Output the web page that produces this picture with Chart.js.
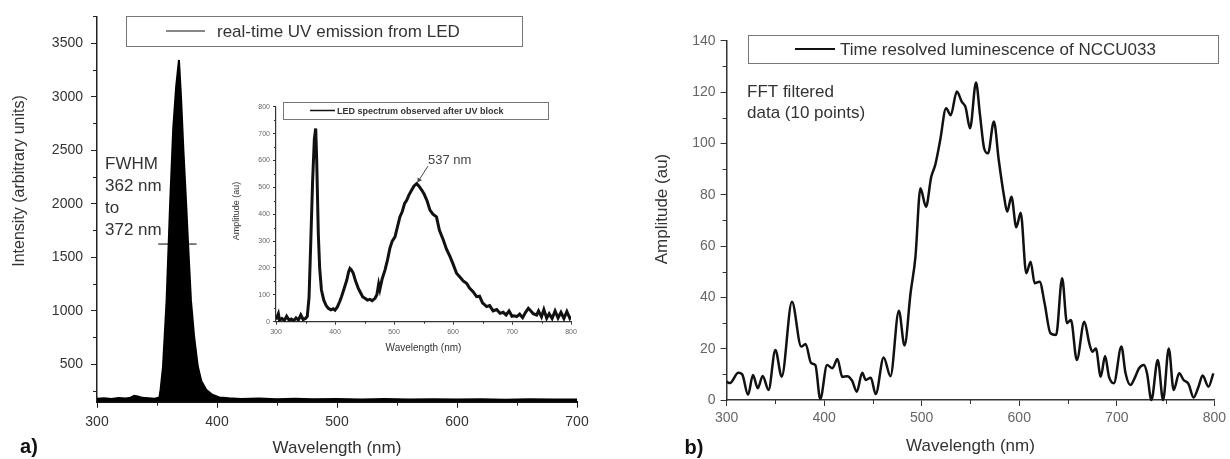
<!DOCTYPE html>
<html lang="en">
<head>
<meta charset="UTF-8" />
<title>UV emission and time resolved luminescence</title>
<script src="https://cdn.jsdelivr.net/npm/chart.js@4.4.1/dist/chart.umd.min.js"></script>
<style>
  body { margin: 0; background: #fff; }
  #wrap { position: relative; width: 1230px; height: 459px; }
  canvas { position: absolute; }
</style>
</head>
<body>
<div id="wrap">
  <canvas id="chartA" width="620" height="459" style="left:0;top:0;width:620px;height:459px"></canvas>
  <canvas id="chartInset" width="355" height="262" style="left:225px;top:96px;width:355px;height:262px"></canvas>
  <canvas id="chartB" width="610" height="459" style="left:620px;top:0;width:610px;height:459px"></canvas>
</div>
<script>
// a) real-time UV emission from LED
const uvWavelength = [300, 306, 312, 318, 324, 328, 331, 334, 338, 343, 348, 352, 353, 355, 358, 361, 363.5, 366, 368.3,
  370, 372, 374.2, 376, 378.3, 381, 384, 387, 391, 396, 402, 410, 420, 435, 450, 465, 480, 500, 520, 540, 560, 580,
  600, 620, 640, 660, 680, 700];
const uvIntensity = [178, 182, 176, 184, 180, 188, 205, 198, 186, 182, 178, 190, 262, 478, 1094, 2021, 2700, 3100, 3343,
  3000, 2500, 2021, 1600, 1094, 750, 478, 340, 262, 215, 190, 182, 176, 180, 174, 178, 172, 176, 170, 175, 171, 174,
  170, 173, 169, 172, 170, 171];
const fwhmWavelength = [351, 383];
const fwhmIntensity = [1623, 1623];
const aXTicks = [300, 400, 500, 600, 700];
const aYTicks = [500, 1000, 1500, 2000, 2500, 3000, 3500];

// inset: LED spectrum observed after UV block
const ledWavelength = [300, 304, 306, 310, 314, 318, 322, 326, 330, 334, 338, 342, 346, 350, 353, 356, 359, 362, 365,
  367.3, 369, 371.7, 374, 377, 381, 385, 388.7, 393, 397, 400, 404, 408, 411, 415, 420, 423, 425.4, 428, 431, 435,
  439.5, 444, 447, 450.8, 455, 459.3, 463, 467.8, 471, 474, 476, 480, 484.7, 489, 493, 497, 501.7, 505, 510, 514,
  518, 521.5, 525, 530, 534, 538.5, 542, 547, 551, 556, 561, 566, 572, 577, 583.6, 589, 595, 600, 606, 612, 618,
  623, 628, 634, 640, 645, 650, 657, 662, 668, 674, 679.7, 685, 690, 695, 700, 704, 708, 713, 718, 723, 727.7, 732,
  736, 741.8, 745, 750, 754, 758.8, 763, 768, 773, 778, 783, 788, 793, 798, 800];
const ledAmplitude = [8, 30, 5, 12, 4, 20, 6, 10, 3, 14, 6, 25, 8, 12, 20, 90, 300, 520, 680,
  719, 600, 328, 200, 118, 80, 60, 50, 44, 48, 43, 55, 75, 93, 120, 155, 185, 198, 192, 180, 150,
  124, 105, 92, 87, 80, 83, 78, 87, 100, 140, 120, 160, 192, 230, 273, 300, 316, 345, 390, 410,
  440, 452, 470, 490, 505, 514, 505, 490, 475, 450, 415, 400, 390, 340, 304, 270, 242, 215, 180, 165, 150,
  143, 125, 112, 93, 95, 70, 56, 60, 40, 45, 31, 35, 25, 40, 20, 22, 19, 28, 15, 35, 50, 40,
  30, 25, 40, 18, 45, 13, 30, 12, 40, 14, 35, 12, 38, 13, 20];
const arrowWavelength = [557.6, 542.4];
const arrowAmplitude = [579, 527];
const insetXTicks = [300, 400, 500, 600, 700, 800];
const insetYTicks = [0, 100, 200, 300, 400, 500, 600, 700, 800];

// b) time resolved luminescence of NCCU033 (FFT filtered)
const trWavelength = [300, 303.5, 312, 316, 322, 327, 332, 337, 343, 350, 356.5, 367, 376.5, 381, 386.6, 391, 396, 403,
  408.5, 413.6, 418.6, 423.6, 428.7, 433.5, 439, 442.7, 447.8, 452.9, 461, 468, 476.6, 482.4, 488.6, 493.6, 498.7,
  504.4, 509.8, 513.9, 519, 525, 529.8, 536, 541, 545, 549.6, 555.7, 559.8, 564, 568, 574, 579, 584.5, 587.6, 592,
  597, 601.5, 607.2, 611.7, 615.8, 620.9, 626, 632, 637.8, 644, 649, 653, 659, 666.7, 671.8, 675, 678.5, 683.6, 688,
  692, 697, 704.7, 709, 714, 719, 722.7, 727.8, 731, 735.5, 742, 747.5, 753.3, 758.3, 764, 768.5, 773.6, 778.7,
  783.8, 788, 794, 799];
const trAmplitude = [7.1, 6.6, 10.6, 10, 2, 9.7, 4.6, 9.4, 3.9, 19.5, 9.1, 38.3, 20.8, 21.8, 14.4, 13.6, 0.4, 13.6,
  12.4, 16, 9, 9.3, 7.5, 3.2, 10.6, 7.8, 8.7, 2.3, 16.6, 9.3, 34.8, 21.2, 41.7, 55.8, 82.5,
  75.3, 87, 91.6, 101.3, 113.7, 111, 120.2, 116.3, 114, 105.9, 123.7, 111, 98.1, 96.1, 108.5, 93.5, 79.2, 73.4, 79.2,
  67.3, 73, 49.4, 53.9, 45.5, 46.1, 37.7, 26, 25.3, 47.4, 29.9, 31.2, 15.6, 30.5, 22.1, 18.8, 20.1, 9.1, 17.1,
  9.1, 6.5, 20.8, 10.4, 5.8, 9.1, 12.3, 13.6, 10.4, 0, 15.6, 0, 20.1, 3.9, 10.4, 7.8, 6.2, 1,
  5.2, 9.5, 5.2, 10.4];
const bXTicks = [300, 400, 500, 600, 700, 800];
const bYTicks = [0, 20, 40, 60, 80, 100, 120, 140];

Chart.defaults.font.family = "'Liberation Sans', Arial, sans-serif";
Chart.defaults.color = '#444';

const pts = (xs, ys) => xs.map((x, i) => ({ x, y: ys[i] }));

// small ticks between the labelled ones
const minorTicks = {
  id: 'minorTicks',
  afterDraw(chart, args, opts) {
    const ctx = chart.ctx;
    ctx.save();
    ctx.strokeStyle = opts.color || '#333';
    ctx.lineWidth = 1;
    for (const [id, step] of Object.entries(opts.steps || {})) {
      const s = chart.scales[id];
      const major = s.ticks.map(t => t.value);
      for (let v = Math.ceil(s.min / step) * step; v <= s.max + 1e-9; v += step) {
        if (major.includes(v)) continue;
        const p = Math.round(s.getPixelForValue(v)) + 0.5;
        ctx.beginPath();
        if (s.isHorizontal()) {
          ctx.moveTo(p, s.top);
          ctx.lineTo(p, s.top + opts.len);
        } else {
          ctx.moveTo(s.right, p);
          ctx.lineTo(s.right - opts.len, p);
        }
        ctx.stroke();
      }
    }
    ctx.restore();
  }
};

// framed legend like the original figures
const boxLegend = {
  id: 'boxLegend',
  afterDraw(chart, args, o) {
    if (!o.box) return;
    const ctx = chart.ctx;
    const [x, y, w, h] = o.box;
    const cy = y + h / 2;
    ctx.save();
    ctx.strokeStyle = '#777';
    ctx.lineWidth = 1;
    ctx.strokeRect(x + 0.5, y + 0.5, w, h);
    ctx.strokeStyle = '#111';
    ctx.lineWidth = o.lineWidth;
    ctx.beginPath();
    ctx.moveTo(o.line[0], cy);
    ctx.lineTo(o.line[1], cy);
    ctx.stroke();
    ctx.font = o.font;
    ctx.fillStyle = '#333';
    ctx.textBaseline = 'middle';
    ctx.fillText(chart.data.datasets[0].label, o.textX, cy + 1);
    ctx.restore();
  }
};

const textNotes = {
  id: 'textNotes',
  afterDraw(chart, args, opts) {
    const ctx = chart.ctx;
    for (const n of opts.items || []) {
      ctx.save();
      ctx.font = n.font;
      ctx.fillStyle = n.color || '#333';
      ctx.textAlign = n.align || 'left';
      ctx.textBaseline = 'middle';
      ctx.translate(n.x, n.y);
      if (n.rotate) ctx.rotate(n.rotate * Math.PI / 180);
      ctx.fillText(n.text, 0, 0);
      ctx.restore();
    }
  }
};

Chart.register(minorTicks, boxLegend, textNotes);

function axis(o) {
  return {
    type: 'linear',
    min: o.min,
    max: o.max,
    afterBuildTicks: s => { s.ticks = o.ticks.map(v => ({ value: v })); },
    afterFit: s => { if (o.size !== undefined) { if (s.isHorizontal()) s.height = o.size; else s.width = o.size; } },
    border: { display: true, color: o.lineColor || '#222', width: o.lineWidth || 1.5 },
    grid: { drawOnChartArea: false, drawTicks: true, tickLength: o.tickLength, tickWidth: 1, color: o.lineColor || '#222' },
    ticks: { color: o.tickColor, padding: o.padding, font: { size: o.fontSize }, maxRotation: 0, autoSkip: false,
      callback: v => String(v) },
    title: o.title ? { display: true, text: o.title, color: '#333', font: { size: o.titleSize }, padding: { top: 0, bottom: o.titlePad } } : { display: false }
  };
}

new Chart(document.getElementById('chartA'), {
  type: 'line',
  data: {
    datasets: [
      { label: 'real-time UV emission from LED', data: pts(uvWavelength, uvIntensity), borderColor: '#000',
        backgroundColor: '#000', borderWidth: 2, fill: 'start', pointRadius: 0, tension: 0 },
      { label: 'FWHM', data: pts(fwhmWavelength, fwhmIntensity), borderColor: '#000', borderWidth: 1,
        pointRadius: 0, fill: false }
    ]
  },
  options: {
    responsive: false,
    animation: false,
    layout: { padding: { left: 0, right: 43, top: 16, bottom: 0 } },
    plugins: {
      legend: { display: false },
      tooltip: { enabled: false },
      minorTicks: { steps: { x: 50, y: 250 }, len: 4, color: '#222' },
      boxLegend: { box: [126, 16, 396, 30], line: [166, 205], lineWidth: 1, textX: 217, font: '17px "Liberation Sans", Arial' },
      textNotes: {
        items: [
          { text: 'Intensity (arbitrary units)', x: 20, y: 181, rotate: -90, align: 'center', font: '16px "Liberation Sans", Arial' },
          { text: 'FWHM', x: 105, y: 164, font: '17px "Liberation Sans", Arial' },
          { text: '362 nm', x: 105, y: 186, font: '17px "Liberation Sans", Arial' },
          { text: 'to', x: 105, y: 208, font: '17px "Liberation Sans", Arial' },
          { text: '372 nm', x: 105, y: 230, font: '17px "Liberation Sans", Arial' },
          { text: 'a)', x: 29, y: 447, align: 'center', color: '#111', font: 'bold 20px "Liberation Sans", Arial' }
        ]
      }
    },
    scales: {
      x: axis({ min: 300, max: 700, ticks: aXTicks, size: 57.3, tickLength: 6, padding: 6, fontSize: 14,
        tickColor: '#333', lineWidth: 2, lineColor: '#111', title: 'Wavelength (nm)', titleSize: 17, titlePad: 0 }),
      y: axis({ min: 150, max: 3750, ticks: aYTicks, size: 97, tickLength: 6, padding: 8, fontSize: 14,
        tickColor: '#333', lineWidth: 1.5 })
    }
  }
});

new Chart(document.getElementById('chartInset'), {
  type: 'line',
  data: {
    datasets: [
      { label: 'LED spectrum observed after UV block', data: pts(ledWavelength, ledAmplitude), borderColor: '#111',
        borderWidth: 3, pointRadius: 0, tension: 0, fill: false },
      { label: '537 nm', data: pts(arrowWavelength, arrowAmplitude), borderColor: '#444', borderWidth: 1,
        pointRadius: [0, 3], pointStyle: 'triangle', pointRotation: 213, pointBackgroundColor: '#444',
        pointBorderWidth: 0, fill: false }
    ]
  },
  options: {
    responsive: false,
    animation: false,
    layout: { padding: { left: 0, right: 9, top: 10.7, bottom: 0 } },
    plugins: {
      legend: { display: false },
      tooltip: { enabled: false },
      minorTicks: { steps: { x: 50, y: 50 }, len: 2, color: '#333' },
      boxLegend: { box: [58, 6, 265, 17], line: [85, 110], lineWidth: 1.5, textX: 112, font: 'bold 9px "Liberation Sans", Arial' },
      textNotes: {
        items: [
          { text: 'Amplitude (au)', x: 12, y: 115, rotate: -90, align: 'center', font: '9px "Liberation Sans", Arial' },
          { text: '537 nm', x: 203, y: 64, font: '13px "Liberation Sans", Arial', color: '#444' }
        ]
      }
    },
    scales: {
      x: axis({ min: 300, max: 800, ticks: insetXTicks, size: 36.3, tickLength: 3, padding: 3, fontSize: 7,
        tickColor: '#666', lineWidth: 1.2, lineColor: '#333', title: 'Wavelength (nm)', titleSize: 10, titlePad: 4 }),
      y: axis({ min: 0, max: 800, ticks: insetYTicks, size: 51, tickLength: 3, padding: 3, fontSize: 7,
        tickColor: '#666', lineWidth: 1.2, lineColor: '#333' })
    }
  }
});

new Chart(document.getElementById('chartB'), {
  type: 'line',
  data: {
    datasets: [
      { label: 'Time resolved luminescence of NCCU033', data: pts(trWavelength, trAmplitude), borderColor: '#111',
        borderWidth: 2.5, pointRadius: 0, cubicInterpolationMode: 'monotone', fill: false, clip: 4 }
    ]
  },
  options: {
    responsive: false,
    animation: false,
    layout: { padding: { left: 0, right: 12.3, top: 40.7, bottom: 0 } },
    plugins: {
      legend: { display: false },
      tooltip: { enabled: false },
      minorTicks: { steps: { x: 50, y: 10 }, len: 4, color: '#333' },
      boxLegend: { box: [128, 35, 470, 28], line: [175, 215], lineWidth: 2.2, textX: 220, font: '17px "Liberation Sans", Arial' },
      textNotes: {
        items: [
          { text: 'Amplitude (au)', x: 42, y: 209, rotate: -90, align: 'center', font: '17px "Liberation Sans", Arial' },
          { text: 'FFT filtered', x: 127, y: 92, font: '17px "Liberation Sans", Arial' },
          { text: 'data (10 points)', x: 127, y: 113, font: '17px "Liberation Sans", Arial' },
          { text: 'b)', x: 74, y: 448, align: 'center', color: '#111', font: 'bold 20px "Liberation Sans", Arial' }
        ]
      }
    },
    scales: {
      x: axis({ min: 300, max: 800, ticks: bXTicks, size: 59, tickLength: 6, padding: 4, fontSize: 14,
        tickColor: '#666', lineWidth: 1.5, lineColor: '#333', title: 'Wavelength (nm)', titleSize: 17, titlePad: 2 }),
      y: axis({ min: 0, max: 140, ticks: bYTicks, size: 106.6, tickLength: 6, padding: 5, fontSize: 14,
        tickColor: '#666', lineWidth: 1.5, lineColor: '#333' })
    }
  }
});
</script>
</body>
</html>
